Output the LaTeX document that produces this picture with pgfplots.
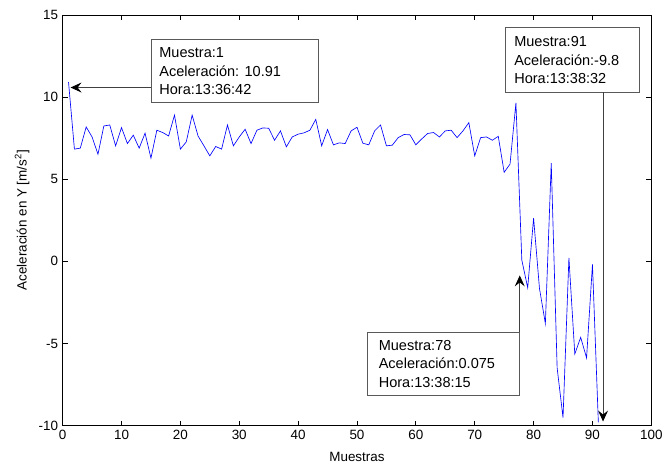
\documentclass[border=0pt]{standalone}
\usepackage{fontspec}
\setmainfont{Liberation Sans}
\usepackage{pgfplots}
\pgfplotsset{compat=1.18}
\usetikzlibrary{arrows.meta}

\pgfplotstableread{
x y
1 10.91
2 6.83
3 6.89
4 8.18
5 7.57
6 6.52
7 8.24
8 8.30
9 7.03
10 8.14
11 7.17
12 7.68
13 6.89
14 7.80
15 6.28
16 7.98
17 7.84
18 7.63
19 8.90
20 6.83
21 7.27
22 8.90
23 7.63
24 7.03
25 6.42
26 6.99
27 6.83
28 8.30
29 7.03
30 7.57
31 8.04
32 7.17
33 7.98
34 8.12
35 8.10
36 7.37
37 7.94
38 6.97
39 7.57
40 7.74
41 7.82
42 7.98
43 8.64
44 7.03
45 8.02
46 7.09
47 7.21
48 7.17
49 7.94
50 8.16
51 7.19
52 7.09
53 7.94
54 8.30
55 7.03
56 7.07
57 7.53
58 7.72
59 7.70
60 7.09
61 7.45
62 7.78
63 7.84
64 7.57
65 7.94
66 7.98
67 7.53
68 7.94
69 8.44
70 6.42
71 7.53
72 7.57
73 7.37
74 7.61
75 5.42
76 5.92
77 9.65
78 0.075
79 -1.61
80 2.63
81 -1.65
82 -3.79
83 5.98
84 -6.49
85 -9.52
86 0.21
87 -5.64
88 -4.63
89 -5.88
90 -0.19
91 -9.8
}\accdata

\begin{document}
\fontsize{13.5}{18}\selectfont
\begin{tikzpicture}
\begin{axis}[
  scale only axis,
  width=592pt, height=413pt,
  xmin=0, xmax=100, ymin=-10, ymax=15,
  xtick={0,10,...,100},
  ytick={-10,-5,...,15},
  /pgf/number format/assume math mode=true,
  tick label style={font=\fontsize{13.5}{16}\selectfont},
  label style={font=\fontsize{13.5}{16}\selectfont},
  xlabel={Muestras},
  xlabel style={yshift=-3pt},
  ylabel={Aceleración en Y [m/s\textsuperscript{2}]},
  axis line style={line width=0.8pt},
  every tick/.style={black, line width=0.8pt},
  major tick length=5pt,
  clip=false,
]
\addplot[blue, line width=0.65pt] table[x=x, y=y] {\accdata};

% data cursor boxes
\tikzset{cursorbox/.style={black!65, fill=white, line width=0.8pt},
  cursortext/.style={anchor=west, align=left, inner sep=0pt, font=\fontsize{14.6}{18.2}\selectfont},
  cursorarrow/.style={black!75, line width=0.8pt, -{Stealth[length=11pt, width=10pt, inset=4pt, black]}}}
\draw[cursorbox] (axis cs:15.03,9.67) rectangle (axis cs:43.41,13.49);
\node[cursortext] at (axis cs:16.4,11.58)
  {Muestra:1\\Aceleración: 10.91\\Hora:13:36:42};
\draw[cursorarrow] (axis cs:15.03,10.58) -- (axis cs:1.35,10.58);

\draw[cursorbox] (axis cs:75.17,10.28) rectangle (axis cs:98.0,14.21);
\node[cursortext] at (axis cs:76.69,12.25)
  {Muestra:91\\Aceleración:-9.8\\Hora:13:38:32};
\draw[cursorarrow] (axis cs:91.8,10.28) -- (axis cs:91.8,-9.75);

\draw[cursorbox] (axis cs:51.74,-8.18) rectangle (axis cs:77.65,-4.31);
\node[cursortext] at (axis cs:53.67,-6.25)
  {Muestra:78\\Aceleración:0.075\\Hora:13:38:15};
\draw[cursorarrow] (axis cs:77.65,-4.31) -- (axis cs:77.65,-0.86);
\end{axis}
\path ([xshift=-63pt,yshift=-37pt]current axis.south west) rectangle ([xshift=12pt,yshift=15pt]current axis.north east);
\end{tikzpicture}
\end{document}
